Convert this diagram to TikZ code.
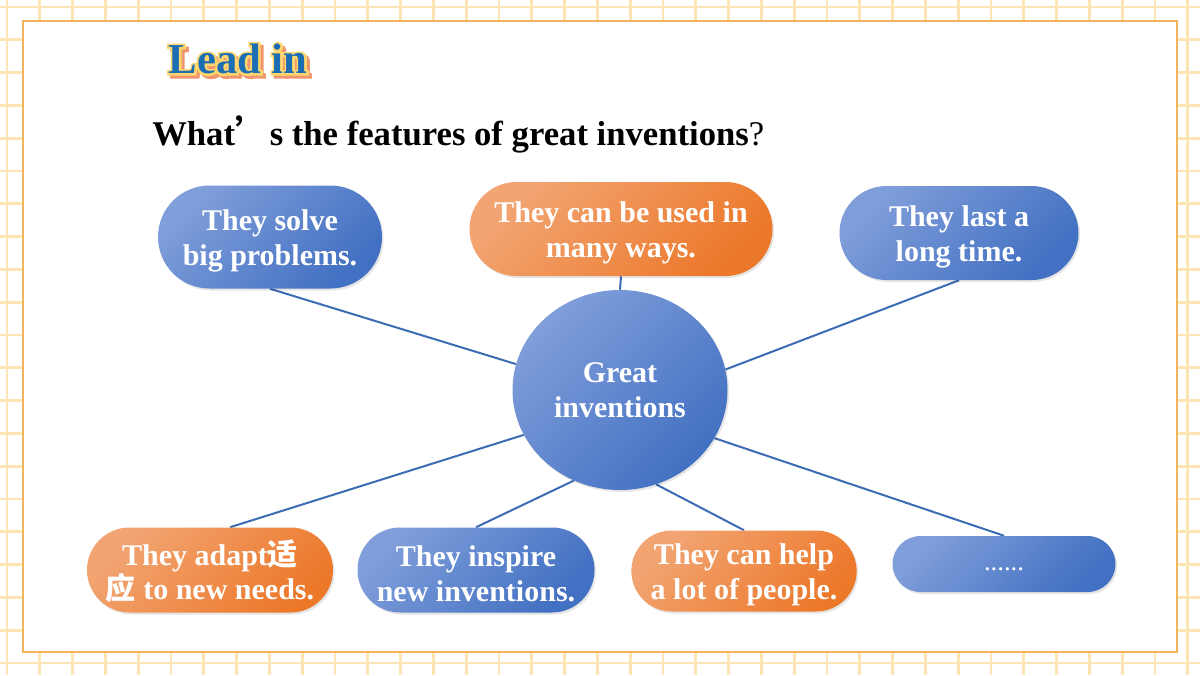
\documentclass[tikz,border=0pt]{standalone}
\usepackage{fontspec}
\setmainfont{Liberation Serif}
\newfontfamily\cjk{Noto Sans CJK SC}
\newfontfamily\titleY{Liberation Serif}[BoldFeatures={FakeBold=10}]
\usetikzlibrary{shapes.geometric,shapes.misc,calc,shadows}
\pgfdeclarelayer{back}
\pgfdeclarelayer{conns}
\pgfsetlayers{back,conns,main}
\definecolor{gridc}{RGB}{252,228,180}
\definecolor{framec}{RGB}{242,180,90}
\definecolor{bluelight}{RGB}{128,158,218}
\definecolor{bluedark}{RGB}{66,112,194}
\definecolor{orlight}{RGB}{242,165,115}
\definecolor{ordark}{RGB}{236,120,42}
\definecolor{linec}{RGB}{60,108,180}
\definecolor{titleblue}{RGB}{28,110,180}
\definecolor{titleyel}{RGB}{253,214,110}
\definecolor{titleshadow}{RGB}{240,150,110}
\tikzset{
  gridline/.style={draw=gridc, line width=2.2pt},
  softshadow/.style={drop shadow={shadow xshift=1.2pt, shadow yshift=-1.5pt, opacity=0.10, fill=black}},
  pillbase/.style={rounded rectangle, inner sep=0pt, text=white, align=center, softshadow},
  pill/.style={pillbase, font=\bfseries\fontsize{22.5}{26}\selectfont, text height=47pt},
  bluefill/.style={top color=bluelight, bottom color=bluedark, shading angle=45},
  orfill/.style={top color=orlight, bottom color=ordark, shading angle=45},
  conn/.style={draw=linec, line width=1.5pt},
  titlefont/.style={font=\fontsize{32}{36}\selectfont, inner sep=0pt}
}
\begin{document}
\begin{tikzpicture}[x=0.75pt,y=-0.75pt]
\useasboundingbox (0,0) rectangle (1200,675);
\begin{pgfonlayer}{back}
\fill[white] (0,0) rectangle (1200,675);
\foreach \i in {0,...,36} \draw[gridline] ({7+32.8*\i},0) -- ({7+32.8*\i},675);
\foreach \j in {0,...,20} \draw[gridline] (0,{7+32.8*\j}) -- (1200,{7+32.8*\j});
\draw[draw=framec, line width=1.6pt, fill=white] (23,21) rectangle (1177,652);
\end{pgfonlayer}

% title: shadow, outline, fill
\node[titlefont, text=titleshadow] (tshadow) at (241,62) {\titleY\bfseries Lead in};
\node[titlefont, text=titleyel] (toutline) at (238,59) {\titleY\bfseries Lead in};
\node[titlefont, text=titleblue] (title) at (238,59) {\bfseries Lead in};

% question
\node[anchor=base west, inner sep=0pt, font=\bfseries\fontsize{26}{30}\selectfont]
  (q) at (152,145) {What{\cjk ’}s the features of great inventions{\mdseries ?}};

% nodes
\node[ellipse, bluefill, softshadow, minimum width=161.25pt, minimum height=150pt, inner sep=0pt,
  text=white, align=center, font=\bfseries\fontsize{22.5}{26}\selectfont] (M) at (620,390) {Great\\inventions};
\node[pill, bluefill, minimum width=168pt, minimum height=77.25pt] (A) at (270,237) {They solve\\big problems.};
\node[pill, orfill, minimum width=227.25pt, minimum height=70.5pt] (B) at (621,229) {They can be used in\\many ways.};
\node[pill, bluefill, minimum width=179.25pt, minimum height=70.5pt] (C) at (959,233) {They last a\\long time.};
\node[pill, orfill, minimum width=184.5pt, minimum height=63.75pt] (D) at (210,570) {They adapt{\cjk 适}\\{\cjk 应} to new needs.};
\node[pill, bluefill, minimum width=177.75pt, minimum height=63.75pt] (E) at (476,570) {They inspire\\new inventions.};
\node[pill, orfill, minimum width=168pt, minimum height=60.75pt] (F) at (744,571) {They can help\\a lot of people.};
\node[pillbase, bluefill, minimum width=167.25pt, minimum height=42pt, font=\fontsize{20}{24}\selectfont,
  text height=10pt, text depth=0pt] (G) at (1004,564) {......};

% connectors
\begin{pgfonlayer}{conns}
\draw[conn] (A.south) -- (M.166);
\draw[conn] (B.south) -- (M.north);
\draw[conn] (C.south) -- (M.11);
\draw[conn] ($(D.north)+(20,0)$) -- (M.205);
\draw[conn] (E.north) -- (M.243);
\draw[conn] (F.north) -- (M.291);
\draw[conn] (G.north) -- (M.333);
\end{pgfonlayer}
\end{tikzpicture}
\end{document}
